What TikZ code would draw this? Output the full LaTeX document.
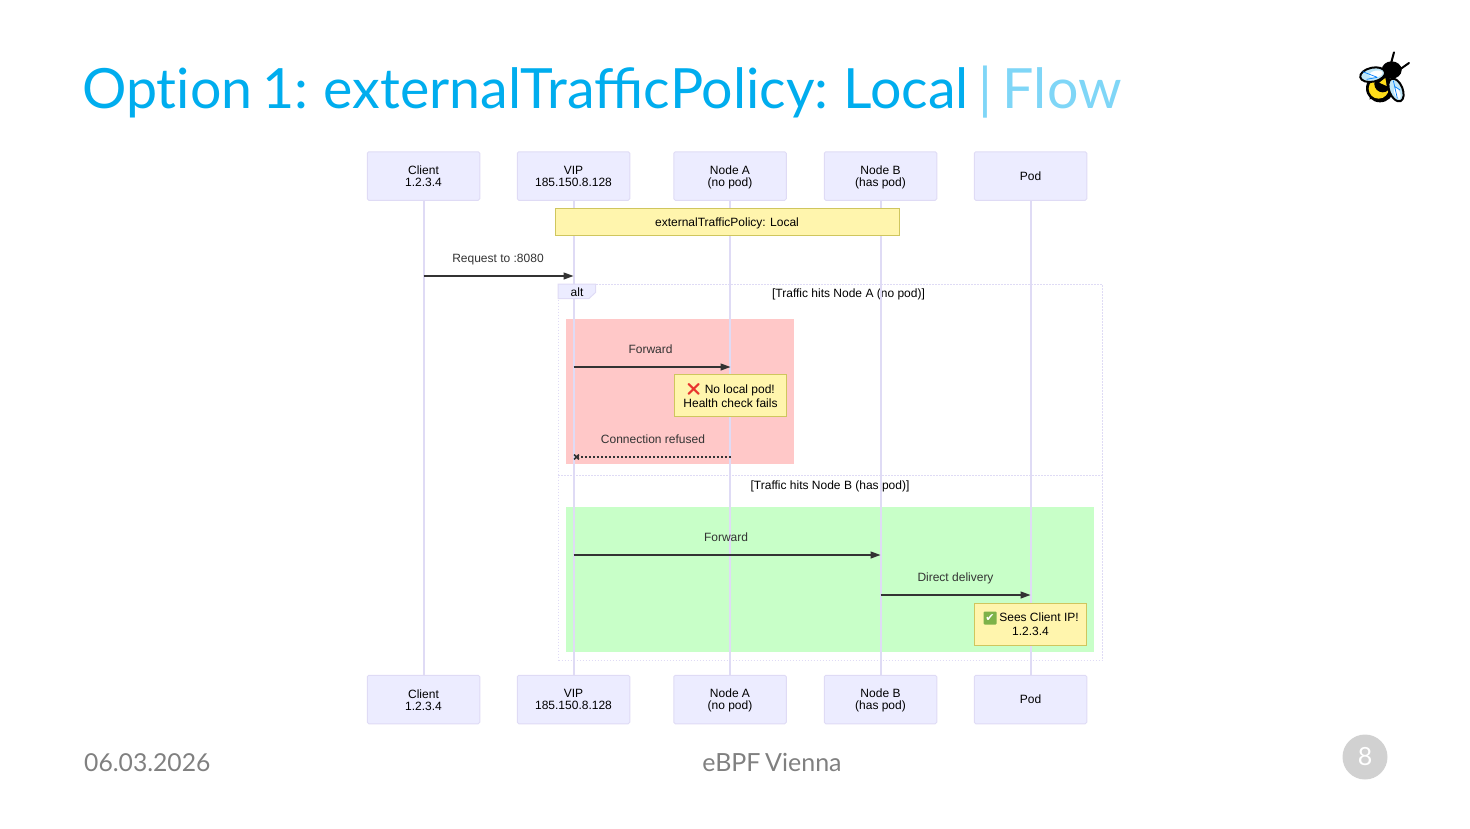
\documentclass[tikz,border=0pt]{standalone}
\usepackage{fontspec}
\setmainfont{Liberation Sans}
\newfontfamily\slidefont{Lato}
\newfontfamily\titlefont[WordSpace=0.72]{Lato}
\newfontfamily\emojifont{Noto Emoji}
\newfontfamily\symbolfont{DejaVu Sans}
\usetikzlibrary{arrows.meta, positioning}
\definecolor{actorfill}{HTML}{ECECFF}
\definecolor{actorline}{HTML}{DFDBF5}
\definecolor{notefill}{HTML}{FFF5AD}
\definecolor{noteline}{HTML}{CFC65E}
\definecolor{msgcolor}{HTML}{333333}
\definecolor{titleblue}{HTML}{00ADEE}
\definecolor{titlelight}{HTML}{7FD6F7}
\definecolor{footgray}{HTML}{808080}
\definecolor{okgreen}{HTML}{7DB249}
\definecolor{nored}{HTML}{E8352E}
\definecolor{wingblue}{HTML}{BFE6F7}
\definecolor{beeyellow}{HTML}{FFDD1A}
\tikzset{
>={Stealth[length=10pt,width=7pt,inset=0pt]},
node distance=150pt, % centre to centre
actor/.style={draw=actorline, fill=actorfill, rounded corners=1.5pt, minimum width=112.5pt, minimum height=48.5pt, inner sep=0pt, align=center, font=\fontsize{12}{12}\selectfont, line width=1pt},
lifeline/.style={draw=actorline, line width=2pt},
notebox/.style={draw=noteline, fill=notefill, line width=1pt, align=center, inner sep=0pt, font=\fontsize{12}{14}\selectfont},
msg/.style={->, draw=msgcolor, line width=1.3pt},
msglabel/.style={text=msgcolor, font=\fontsize{12}{12}\selectfont, above=13pt, inner sep=0pt},
framed/.style={draw=actorline, line width=1pt, dash pattern=on 1.5pt off 1.5pt},
guard/.style={font=\fontsize{12}{12}\selectfont, inner sep=0pt},
}

\begin{document}
\begin{tikzpicture}[x=1pt, y=-1pt]
\useasboundingbox (0,0) rectangle (1470,828);

% slide
\node[anchor=west, inner sep=0pt, font=\fontsize{55.5}{56}\titlefont] (title) at (82,92) {\textcolor{titleblue}{Opt\kern0pt ion 1: externalTrafficPolicy: Local} \textcolor{titlelight}{| Flow}};
\node[anchor=west, inner sep=0pt, text=footgray, font=\fontsize{24.7}{26}\slidefont] (date) at (84,762.5) {06.03.2026};
\node[inner sep=0pt, text=footgray, font=\fontsize{25}{26}\slidefont] (event) at (772,762) {eBPF Vienna};
\node[circle, fill=black!18, minimum size=45pt, inner sep=0pt, text=white, font=\fontsize{25}{26}\slidefont] (pagenum) at (1365,757) {8};

% bee
\begin{scope}[shift={(1340,40)}, x=0.3333pt, y=-0.3333pt]
\draw[black, line width=2pt, line cap=round] (153,70) -- (162,37);
\draw[black, line width=2pt, line cap=round] (180,88) -- (207,69);
\fill[black] (155,90) ellipse (30 and 26);
\fill[black] (88,178) -- (98,160) -- (125,172) -- cycle;
\fill[black] (120,145) circle (42);
\fill[beeyellow] (116,146) circle (30);
\fill[black] (128,132) circle (25);
\fill[beeyellow] (118,128) -- (136,114) -- (140,138) -- cycle;
\draw[black, fill=wingblue, line width=2pt, rotate around={12:(98,104)}] (98,104) ellipse (38 and 21);
\draw[black, fill=wingblue, line width=2pt, rotate around={-68:(168,150)}] (168,150) ellipse (36 and 20);
\fill[white, rotate around={12:(108,102)}] (108,102) ellipse (20 and 10);
\fill[white, rotate around={-68:(172,160)}] (172,160) ellipse (18 and 8);
\draw[blue!50!cyan, line width=0.7pt] (68,95) -- (112,112) (80,118) -- (112,112);
\draw[blue!50!cyan, line width=0.7pt] (160,122) -- (172,175) (180,150) -- (165,140);
\end{scope}

% actors top
\node[actor] (client) at (423.5,176) {Client\\1.2.3.4};
\node[actor, right of=client] (vip) {VIP\\185.150.8.128};
\node[actor, right of=vip, xshift=6.5pt] (nodeA) {Node A\\\smash{(no pod)}};
\node[actor, right of=nodeA, xshift=0.5pt] (nodeB) {Node B\\\smash{(has pod)}};
\node[actor, right of=nodeB] (pod) {Pod};

% actors bottom
\node[actor] (client2) at (423.5,699.5) {\rule{0pt}{10pt}Client\\1.2.3.4};
\node[actor, right of=client2] (vip2) {VIP\\185.150.8.128};
\node[actor, right of=vip2, xshift=6.5pt] (nodeA2) {Node A\\\smash{(no pod)}};
\node[actor, right of=nodeA2, xshift=0.5pt] (nodeB2) {Node B\\\smash{(has pod)}};
\node[actor, right of=nodeB2] (pod2) {Pod};

% alt frame
\node[inner sep=0pt, minimum width=544pt, minimum height=376pt, framed, anchor=north west] (altframe) at (558,284) {};
\coordinate (altL) at (558,475.5);
\coordinate (altR) at (1102,475.5);
\draw[framed] (altL) -- (altR);
\node[fill={rgb,255:red,255;green,200;blue,200}, inner sep=0pt, minimum width=228pt, minimum height=145pt, anchor=north west] (redrect) at (566,319) {};
\node[fill={rgb,255:red,200;green,255;blue,200}, inner sep=0pt, minimum width=528pt, minimum height=145pt, anchor=north west] (greenrect) at (566,507) {};
\node[guard] (guardA) at (848.5,294) {[Traffic hits Node A (no pod)]};
\node[guard] (guardB) at (830,486.5) {[Traffic hits Node B (has pod)]};

% lifelines
\draw[lifeline] (client) -- (client2);
\draw[lifeline] (vip) -- (vip2);
\draw[lifeline] (nodeA) -- (nodeA2);
\draw[lifeline] (nodeB) -- (nodeB2);
\draw[lifeline] (pod) -- (pod2);

% alt tab goes over the lifeline
\draw[draw=actorline, fill=actorfill, line width=1pt] (558,284) -- (595.5,284) -- (595.5,292.5) -- (589,298.5) -- (558,298.5) -- cycle;
\node[guard] (altlabel) at (577,292) {alt};

% notes
\node[notebox, minimum width=344pt, minimum height=27pt, text height=9pt, text depth=0pt] (policy) at (727,221.5) {externalTrafficPolicy: Local};
\node[notebox, minimum width=112.5pt, minimum height=42pt] (noPod) at (730.5,395.5) {{\color{nored}\emojifont ❌}\ No local pod!\\Health check fails};
\node[notebox, minimum width=112.5pt, minimum height=42pt] (seesIP) at (1030.5,624) {\hspace*{17pt}Sees Client IP!\\1.2.3.4};
\node[fill=okgreen, text=white, minimum size=13pt, inner sep=0pt, rounded corners=1pt, font=\fontsize{11}{11}\symbolfont] (okmark) at (990,618) {✔};

% messages
\coordinate (m1a) at (423.5,276);   \coordinate (m1b) at (573.5,276);
\coordinate (m2a) at (573.5,367);   \coordinate (m2b) at (730.5,367);
\coordinate (m3a) at (730.5,457);   \coordinate (m3b) at (573.5,457);
\coordinate (m4a) at (573.5,555);   \coordinate (m4b) at (880.5,555);
\coordinate (m5a) at (880.5,595);   \coordinate (m5b) at (1030.5,595);

\draw[msg] (m1a) -- node[msglabel, above=10pt, xshift=-0.5pt]{Request to :8080} (m1b);
\draw[msg] (m2a) -- node[msglabel, xshift=-1.5pt]{Forward} (m2b);
\draw[msg, dash pattern=on 2pt off 2pt, -{Rays[n=4,length=7pt,width=7pt,line width=1.5pt]}] (m3a) -- node[msglabel, xshift=1pt]{Connection refused} (m3b);
\draw[msg] (m4a) -- node[msglabel, xshift=-1pt]{Forward} (m4b);
\draw[msg] (m5a) -- node[msglabel, above=10.5pt]{Direct delivery} (m5b);

\end{tikzpicture}
\end{document}
